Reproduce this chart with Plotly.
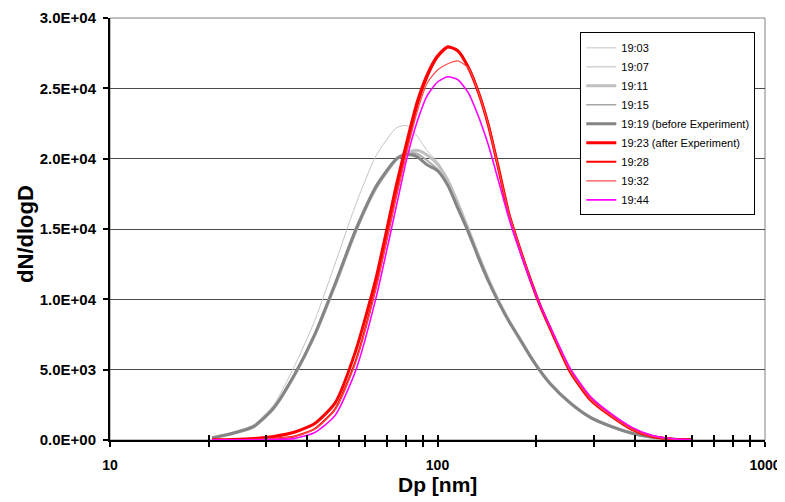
import plotly.graph_objects as go

# Particle diameter bins [nm]
dp = [20.5, 23.7, 27.4, 31.6, 36.5, 42.2, 48.7, 56.2, 64.9, 75.0, 80.6, 86.6, 93.1,
      100.0, 107.5, 115.5, 124.1, 133.4, 143.3, 154.0, 165.5, 177.8, 191.1, 205.4,
      220.7, 254.8, 294.3, 339.8, 392.4, 453.2, 523.3, 593.0]

s_1903 = [160, 530, 1080, 2500, 5200, 8500, 12550, 16700, 20200, 22200, 22350, 21600, 20550,
          19800, 18600, 17000, 15000, 13150, 11400, 9850, 8480, 7280, 6060, 4960,
          4030, 2630, 1590, 960, 490, 195, 60, 20]
s_1907 = [160, 500, 1000, 2350, 4700, 7700, 11300, 15100, 18200, 20100, 20450, 20400, 19900,
          19300, 18200, 16700, 14950, 13100, 11350, 9850, 8500, 7300, 6080, 4980,
          4050, 2640, 1600, 970, 500, 200, 60, 20]
s_1911 = [140, 460, 930, 2250, 4550, 7450, 11000, 14800, 17900, 19950, 20450, 20600, 20250,
          19600, 18450, 16800, 15000, 13150, 11400, 9850, 8480, 7280, 6060, 4960,
          4030, 2630, 1590, 960, 490, 195, 60, 20]
s_1915 = [150, 470, 940, 2270, 4580, 7480, 11050, 14850, 17950, 19950, 20350, 20350, 19850,
          19250, 18150, 16600, 14900, 13050, 11300, 9800, 8450, 7250, 6050, 4950,
          4020, 2620, 1580, 960, 490, 195, 60, 20]
s_1919 = [150, 480, 950, 2280, 4600, 7500, 11100, 14900, 18000, 20000, 20300, 20150, 19550,
          19150, 18100, 16450, 14800, 12950, 11250, 9750, 8400, 7220, 6020, 4930,
          4000, 2600, 1570, 950, 480, 190, 60, 20]
s_1923 = [20, 40, 100, 250, 550, 1180, 2640, 6300, 11500, 18200, 21200, 24000, 26000,
          27300, 27950, 27650, 26500, 24700, 22300, 19200, 16000, 13700, 11550, 9600,
          7950, 4820, 2810, 1680, 750, 250, 60, 10]
s_1928 = [15, 25, 40, 100, 250, 800, 2200, 5600, 10900, 17500, 20700, 23700, 25800,
          27200, 27900, 27700, 26550, 24750, 22350, 19150, 16050, 13750, 11600, 9650,
          8000, 4900, 2880, 1720, 780, 260, 65, 10]
s_1932 = [15, 25, 40, 100, 240, 780, 2150, 5500, 10800, 17400, 20500, 23300, 25400,
          26300, 26750, 26950, 26450, 24700, 22300, 19150, 16050, 13750, 11600, 9650,
          8000, 4880, 2860, 1700, 770, 255, 62, 10]
s_1944 = [10, 10, 15, 25, 100, 530, 1750, 4900, 10100, 16700, 20000, 22600, 24500,
          25450, 25820, 25600, 24700, 23000, 20900, 18300, 15700, 13500, 11500, 9650,
          8050, 5050, 3050, 1850, 900, 320, 90, 20]

series_names = ["19:03", "19:07", "19:11", "19:15", "19:19 (before Experiment)",
                "19:23 (after Experiment)", "19:28", "19:32", "19:44"]
series_values = [s_1903, s_1907, s_1911, s_1915, s_1919, s_1923, s_1928, s_1932, s_1944]
series_colors = ["#c4c4c4", "#bcbcbc", "#c0c0c0", "#a6a6a6", "#858585",
                 "#ff0000", "#ff0000", "#ff4a4a", "#ff00ff"]
series_widths = [1, 1, 3, 1.5, 3, 3, 2, 1.2, 1.6]

x_tickvals = [10, 100, 1000]
x_ticktext = ["10", "100", "1000"]
x_minor = [20, 30, 40, 50, 60, 70, 80, 90, 200, 300, 400, 500, 600, 700, 800, 900]
y_tickvals = [0, 5000, 10000, 15000, 20000, 25000, 30000]
y_ticktext = ["0.0E+00", "5.0E+03", "1.0E+04", "1.5E+04", "2.0E+04", "2.5E+04", "3.0E+04"]
x_title = "Dp [nm]"
y_title = "dN/dlogD"

FONT = "Liberation Sans, Arial, sans-serif"

fig = go.Figure()
for name, vals, col, w in zip(series_names, series_values, series_colors, series_widths):
    fig.add_trace(go.Scatter(
        x=dp, y=vals, mode="lines", name=name, legendgroup=name,
        line=dict(color=col, width=w, shape="spline", smoothing=0.6),
    ))

# dummy trace for the inner-tick overlay axis
fig.add_trace(go.Scatter(x=[100], y=[None], xaxis="x2", showlegend=False,
                         hoverinfo="skip", mode="lines"))

fig.update_layout(
    width=785, height=502,
    margin=dict(l=102, r=28, t=10, b=70, autoexpand=False),
    paper_bgcolor="white", plot_bgcolor="white",
    font=dict(family=FONT, color="black"),
    showlegend=True,
    legend=dict(
        x=0.718, y=0.966, xanchor="left", yanchor="top",
        bgcolor="white", bordercolor="black", borderwidth=1,
        font=dict(family=FONT, size=11, color="black"),
        tracegroupgap=0, itemwidth=30,
    ),
    xaxis=dict(
        type="log", range=[1, 3], automargin=False,
        showline=True, linecolor="black", linewidth=2,
        showgrid=False, zeroline=False,
        ticks="outside", ticklen=5, tickwidth=2, tickcolor="black",
        tickvals=x_tickvals, ticktext=x_ticktext,
        tickfont=dict(family=FONT, size=14, color="black", weight="bold"),
        ticklabelstandoff=6,
        minor=dict(tickvals=x_minor, ticks="outside", ticklen=5, tickwidth=2,
                   tickcolor="black", showgrid=False),
    ),
    xaxis2=dict(
        type="log", range=[1, 3], overlaying="x", anchor="y", side="bottom",
        automargin=False,
        showline=False, showgrid=False, zeroline=False,
        ticks="inside", ticklen=5, tickwidth=2, tickcolor="black",
        tickvals=x_tickvals, showticklabels=False,
        minor=dict(tickvals=x_minor, ticks="inside", ticklen=5, tickwidth=2,
                   tickcolor="black", showgrid=False),
    ),
    yaxis=dict(
        range=[0, 30000], automargin=False,
        showline=True, linecolor="black", linewidth=2,
        showgrid=True, gridcolor="#4a4a4a", gridwidth=1, zeroline=False,
        ticks="outside", ticklen=5, tickwidth=1.5, tickcolor="black",
        tickvals=y_tickvals, ticktext=y_ticktext,
        tickfont=dict(family=FONT, size=15, color="black", weight="bold"),
        ticklabelstandoff=4,
    ),
    shapes=[dict(type="rect", xref="paper", yref="paper", x0=0, x1=1, y0=0, y1=1,
                 line=dict(color="#808080", width=1), layer="below")],
    annotations=[
        dict(text=x_title, xref="paper", yref="paper", x=0.5, y=-0.106,
             xanchor="center", yanchor="middle", showarrow=False, borderpad=0,
             font=dict(family=FONT, size=21, color="black", weight="bold")),
        dict(text=y_title, xref="paper", yref="paper", x=-0.13, y=0.488,
             xanchor="center", yanchor="middle", showarrow=False, textangle=-90,
             borderpad=0,
             font=dict(family=FONT, size=22, color="black", weight="bold")),
    ],
)

fig.write_html("out.html")
